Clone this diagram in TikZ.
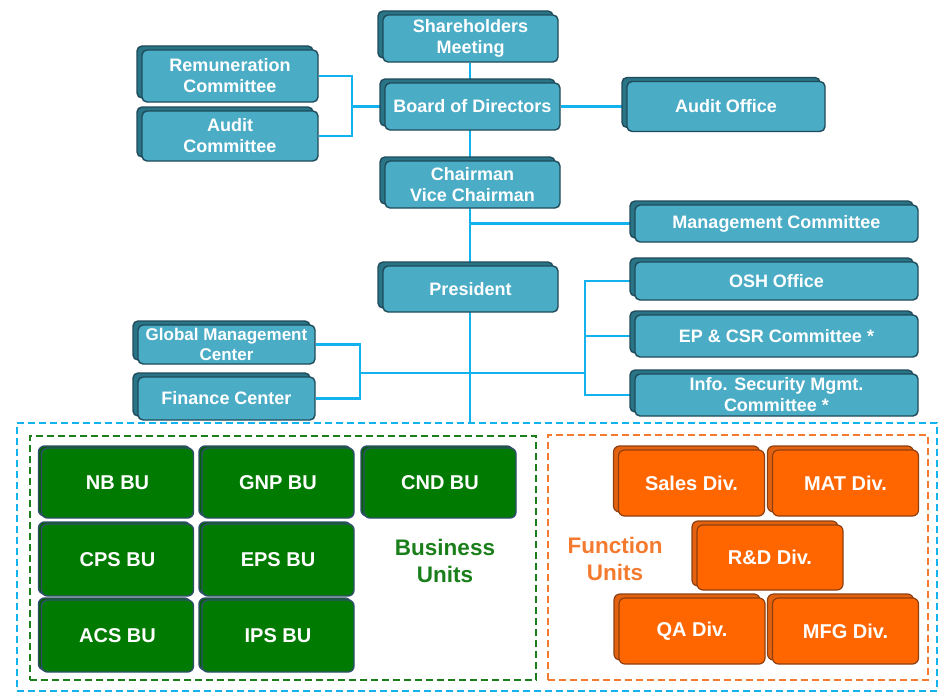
\documentclass[tikz,border=0pt]{standalone}
\usepackage{fontspec}
\setmainfont{Liberation Sans}
\usetikzlibrary{shadows,backgrounds}
\definecolor{tfill}{HTML}{4BACC6}
\definecolor{tback}{HTML}{2A7487}
\definecolor{tborder}{HTML}{1F4B5A}
\definecolor{conn}{HTML}{12B2EE}
\definecolor{gfill}{HTML}{007A00}
\definecolor{gback}{HTML}{006200}
\definecolor{gborder}{HTML}{2F4F6A}
\definecolor{gdash}{HTML}{1A7F1A}
\definecolor{ofill}{HTML}{FF6600}
\definecolor{oback}{HTML}{E2620F}
\definecolor{oborder}{HTML}{8E3F10}
\definecolor{odash}{HTML}{F47A30}
\begin{document}
\begin{tikzpicture}[x=1pt,y=-1pt,
  tbox/.style={draw=tborder, line width=1.4pt, fill=tfill, rounded corners=5pt,
    text=white, font=\bfseries\fontsize{18}{21}\selectfont, align=center, inner sep=0pt,
    general shadow={shadow xshift=-5pt, shadow yshift=4pt, fill=tback, draw=tborder, line width=1.4pt}},
  gbox/.style={draw=gborder, line width=1.4pt, fill=gfill, rounded corners=6pt,
    text=white, font=\bfseries\fontsize{20}{24}\selectfont, align=center, inner sep=0pt,
    minimum width=152pt, general shadow={shadow xshift=-3pt, shadow yshift=2pt, fill=gback, draw=gborder, line width=1.4pt}},
  obox/.style={draw=oborder, line width=1.2pt, fill=ofill, rounded corners=6pt,
    text=white, font=\bfseries\fontsize{20}{24}\selectfont, align=center, inner sep=0pt,
    minimum width=146pt, minimum height=66pt,
    general shadow={shadow xshift=-5pt, shadow yshift=4pt, fill=oback, draw=oborder, line width=1.2pt}},
  conline/.style={draw=conn, line width=2.6pt},
  grplabel/.style={font=\bfseries\fontsize{22.5}{27}\selectfont, align=center, inner sep=0pt}
]
\useasboundingbox (0,0) rectangle (944,693);

% top chain
\node[tbox, minimum width=175pt, minimum height=47pt] (sh) at (470.5,38.5) {Shareholders\\Meeting};
\node[tbox, minimum width=175pt, minimum height=47pt] (bod) at (472.5,106.5) {Board of Directors};
\node[tbox, minimum width=175pt, minimum height=47pt] (ch) at (472.5,184.5) {Chairman\\Vice Chairman};
\node[tbox, minimum width=175pt, minimum height=46pt] (pres) at (470.5,289) {President};

% left committees
\node[tbox, minimum width=176pt, minimum height=52pt] (rem) at (230,76) {Remuneration\\Committee};
\node[tbox, minimum width=176pt, minimum height=50pt] (ac) at (230,136) {Audit\\Committee};
\node[tbox, minimum width=198pt, minimum height=50pt] (ao) at (726,106.5) {Audit Office};

% right offices
\node[tbox, minimum width=283pt, minimum height=37pt] (mc) at (776.5,223.5) {Management Committee};
\node[tbox, minimum width=283pt, minimum height=38pt] (osh) at (776.5,281) {OSH Office};
\node[tbox, minimum width=283pt, minimum height=42pt] (ep) at (776.5,336) {EP \& CSR Committee *};
\node[tbox, minimum width=283pt, minimum height=42pt] (info) at (776.5,395) {Info. Security Mgmt.\\Committee *};

% left centers
\node[tbox, minimum width=177pt, minimum height=39pt, font=\bfseries\fontsize{17}{20}\selectfont] (gmc) at (226.5,344.5) {Global Management\\Center};
\node[tbox, minimum width=177pt, minimum height=43pt] (fc) at (226.5,398.5) {Finance Center};

% connection points
\coordinate (trunkend) at (470,423);
\coordinate (lb) at (352,106.5);
\coordinate (lb2) at (360,373);
\coordinate (rb2) at (585,373);

\begin{pgfonlayer}{background}
  \draw[conline] (sh.south -| trunkend) -- (trunkend);
  \draw[conline] (trunkend |- mc.west) -- (mc.west);
  \draw[conline] (bod.east) -- (ao.west);
  \draw[conline] (rem.east) -| (lb) |- (ac.east);
  \draw[conline] (lb) -- (bod.west);
  \draw[conline] (gmc.east) -| (lb2) |- (fc.east);
  \draw[conline] (lb2) -- (rb2);
  \draw[conline] (osh.west) -| (rb2) |- (info.west);
  \draw[conline] (rb2 |- ep.west) -- (ep.west);
\end{pgfonlayer}

% dashed groups
\node[draw=conn, line width=2.2pt, dash pattern=on 7pt off 4pt, minimum width=920pt, minimum height=268pt, inner sep=0pt] (outer) at (477,557) {};
\node[draw=gdash, line width=2pt, dash pattern=on 7pt off 4pt, minimum width=506pt, minimum height=244pt, inner sep=0pt] (bugrp) at (283,558) {};
\node[draw=odash, line width=2pt, dash pattern=on 7pt off 4pt, minimum width=380pt, minimum height=245pt, inner sep=0pt] (fugrp) at (738,557.5) {};

% business units
\node[gbox, minimum height=70pt] (nb) at (117.5,483) {NB BU};
\node[gbox, minimum height=70pt] (gnp) at (278,483) {GNP BU};
\node[gbox, minimum height=70pt] (cnd) at (440,483) {CND BU};
\node[gbox, minimum height=72pt] (cps) at (117.5,560) {CPS BU};
\node[gbox, minimum height=72pt] (eps) at (278,560) {EPS BU};
\node[gbox, minimum height=72pt] (acs) at (117.5,636) {ACS BU};
\node[gbox, minimum height=72pt] (ips) at (278,636) {IPS BU};
\node[grplabel, text=gdash] (bulabel) at (445,561) {Business\\Units};

% function units
\node[obox] (sales) at (691.5,483) {Sales Div.};
\node[obox] (mat) at (845.5,483) {MAT Div.};
\node[obox, minimum height=65pt] (rd) at (770,557.5) {R\&D Div.};
\node[obox] (qa) at (692,631) {QA Div.};
\node[obox] (mfg) at (845.5,631) {MFG Div.};
\node[grplabel, text=odash] (fulabel) at (615,559) {Function\\Units};
\end{tikzpicture}
\end{document}
